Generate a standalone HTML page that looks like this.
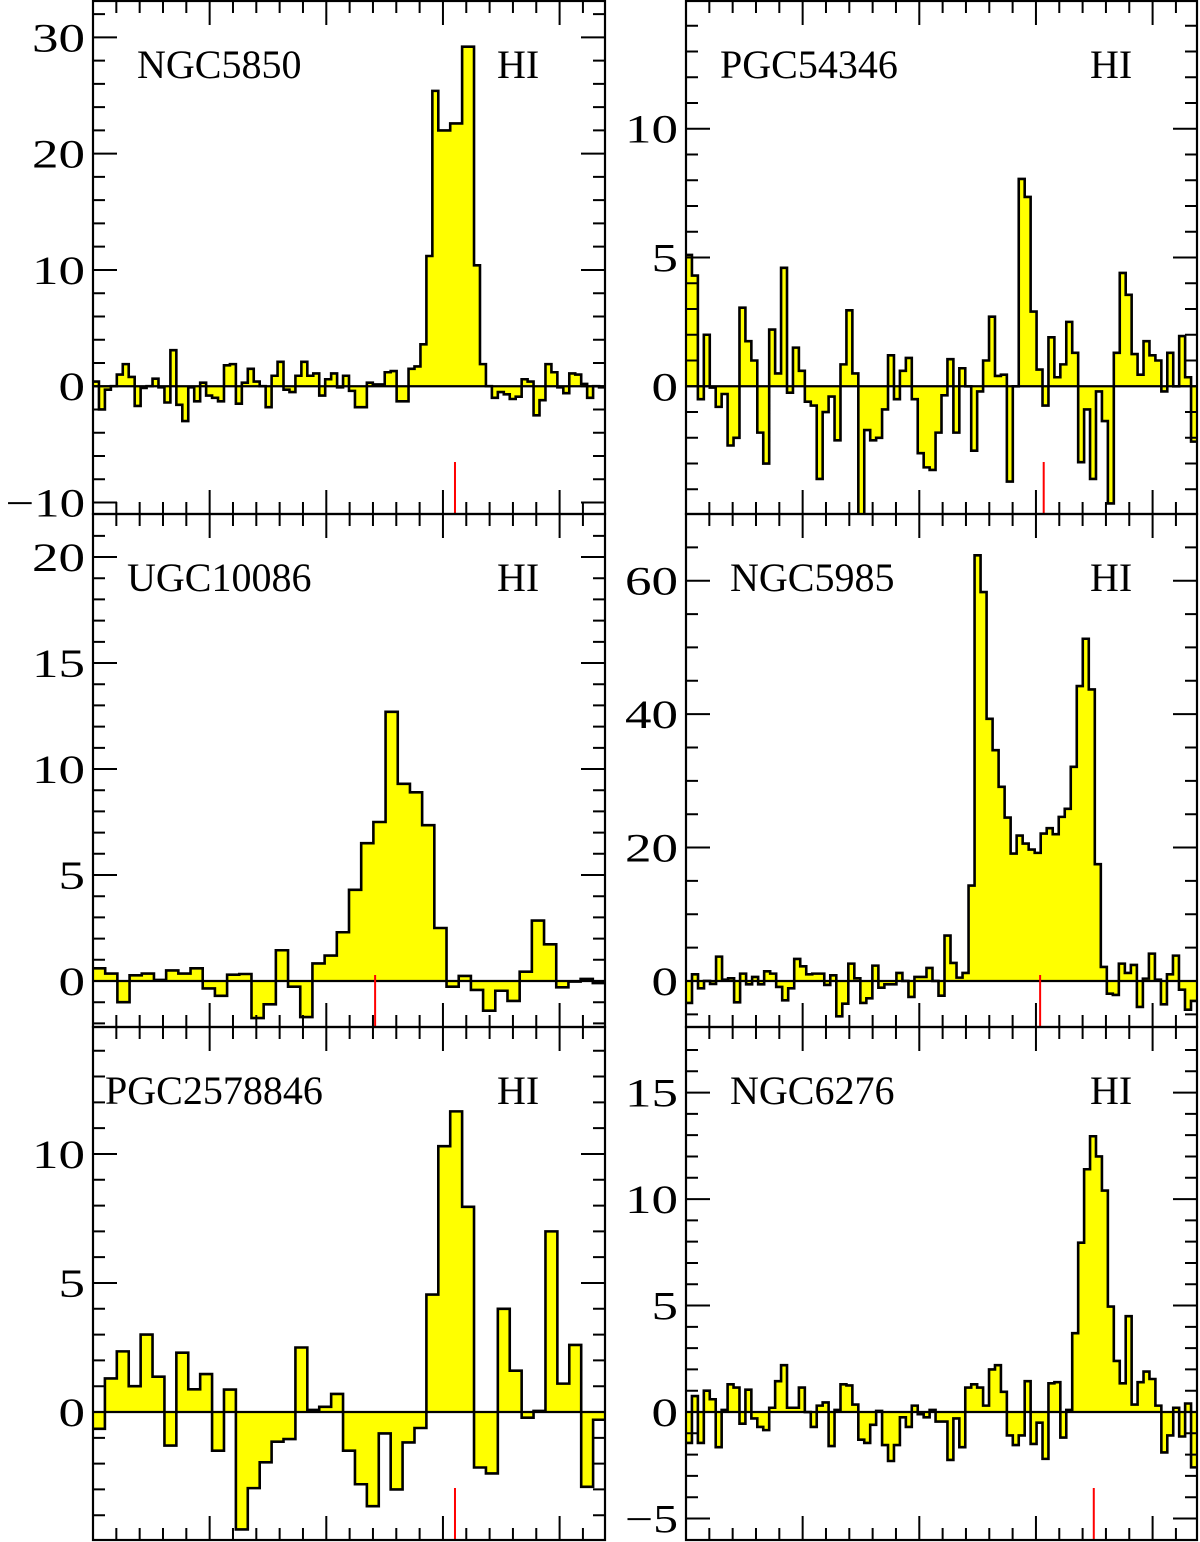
<!DOCTYPE html>
<html><head><meta charset="utf-8"><style>
html,body{margin:0;padding:0;background:#fff;}
svg{display:block;}
text{font-family:"Liberation Serif",serif;fill:#000;}
</style></head><body>
<svg id="chart" width="1200" height="1542" viewBox="0 0 1200 1542" xmlns="http://www.w3.org/2000/svg"></svg>
<script>
// ---- data (flux density per channel) ----
const namesList = ["NGC5850","PGC54346","UGC10086","NGC5985","PGC2578846","NGC6276"];
const ngc5850 = [0.4,-2.0,-0.3,0,1.0,1.9,0.8,-1.7,-0.15,0,0.65,-0.1,-1.4,3.1,-1.6,-3.0,-0.1,-1.3,0.3,-0.8,-1.0,-1.3,1.8,1.9,-1.5,0.3,1.5,0.4,0,-1.8,0.9,2.1,-0.3,-0.5,0.9,2.1,0.9,1.1,-0.8,0.6,1.1,-0.1,0.9,-0.4,-1.8,-1.8,0.3,0.15,0.15,1.2,1.3,-1.3,-1.3,1.5,1.7,3.6,11.2,25.4,22.0,22.0,22.6,22.6,29.2,29.2,10.4,1.9,0,-1.0,-0.5,-0.7,-1.1,-0.9,0.6,0.4,-2.5,-1.2,1.9,1.2,-0.1,-0.6,1.1,1.0,0.2,-1.0,0,-0.1];
const pgc54346 = [5.1,4.3,-0.5,2.0,-0.05,-0.8,-0.3,-2.3,-2.0,3.05,1.75,1.0,-1.8,-3.0,2.2,0.5,4.6,-0.25,1.5,0.6,-0.6,-0.75,-3.6,-1.0,-0.4,-2.1,0.85,2.95,0.5,-5.1,-1.7,-2.1,-2.0,-0.9,1.2,-0.5,0.6,1.1,-0.5,-2.6,-3.15,-3.25,-1.8,-0.35,1.05,-1.8,0.7,0,-2.5,-0.2,1.0,2.7,0.4,0.45,-3.7,0,8.05,7.35,2.9,0.65,-0.75,1.9,0.35,0.85,2.5,1.3,-2.95,-0.9,-3.6,-0.2,-1.35,-4.55,1.3,4.4,3.55,1.25,0.45,1.75,1.2,1.0,-0.2,1.3,0,1.95,0.35,-2.15];
const ugc10086 = [0.6,0.35,-1.0,0.27,0.35,0.05,0.5,0.35,0.6,-0.35,-0.7,0.3,0.33,-1.75,-1.1,1.45,-0.27,-1.7,0.83,1.2,2.3,4.3,6.5,7.5,12.7,9.3,8.9,7.35,2.5,-0.27,0.24,-0.42,-1.4,-0.46,-0.94,0.44,2.85,1.73,-0.3,-0.03,0.1,-0.1];
const ngc5985 = [-3.3,1.0,-1.1,0,-0.45,3.65,0.2,0.4,-3.2,1.1,-0.5,0.6,-0.5,1.45,1.1,-0.9,-2.9,-1.1,3.3,2.2,1.0,1.1,1.1,-0.6,0.85,-5.3,-3.4,2.6,0.4,-3.3,-2.6,2.3,-1.0,-0.5,-0.5,1.2,0,-2.4,0.6,0.6,1.95,0,-2.2,6.8,2.7,0.5,1.2,14.3,63.8,58.3,39.3,34.6,29.1,24.5,19.1,21.8,20.6,19.7,19.2,22.1,22.9,22.0,24.6,25.8,32.1,44.2,51.3,43.7,17.5,2.1,-1.9,-2.1,2.6,1.2,2.4,-3.9,0.35,4.1,0.2,-3.5,1.0,3.8,-1.3,-4.3,-3.0];
const pgc2578846 = [-0.65,1.3,2.35,1.0,3.0,1.37,-1.3,2.3,0.88,1.47,-1.5,0.87,-4.55,-2.95,-1.95,-1.15,-1.05,2.5,0.08,0.2,0.7,-1.5,-2.8,-3.65,-0.83,-3.0,-1.18,-0.62,4.55,10.3,11.65,7.95,-2.15,-2.38,4.0,1.6,-0.22,0.04,7.0,1.1,2.6,-2.9,-0.3];
const ngc6276 = [-1.45,0.75,-1.45,1.0,0.6,-1.65,0.1,1.3,1.15,-0.55,1.05,-0.3,-0.7,-0.85,0.2,1.45,2.2,0.2,0.2,1.15,0,-0.7,0.3,0.45,-1.6,0.1,1.3,1.25,0.35,-1.3,-1.45,-0.6,0.05,-1.55,-2.3,-1.55,-0.25,-0.7,0.3,-0.1,-0.25,0.1,-0.45,-0.45,-2.25,-0.3,-1.65,1.15,1.3,1.15,0.3,2.0,2.2,0.95,-1.1,-1.55,-1.1,1.45,-1.5,-0.5,-2.2,1.35,1.4,-1.2,0.1,3.7,7.95,11.4,12.95,12.0,10.4,4.95,2.4,1.35,4.5,0.35,1.4,1.9,1.55,0.3,-1.9,-1.1,0.2,-1.15,0.4,-2.6];
const seriesList = [ngc5850,pgc54346,ugc10086,ngc5985,pgc2578846,ngc6276];
const yMinList = [-10.99,-4.96,-2.17,-6.9,-4.96,-6.01];
const yMaxList = [33.13,14.96,22.03,70.0,14.92,18.08];
const yLabelStep = [10,5,5,20,5,5];
const yMinorStep = [2,1,1,5,1,1];
const tickLabelsList = [["30","20","10","0","\u221210"],["10","5","0"],["20","15","10","5","0"],["60","40","20","0"],["10","5","0"],["15","10","5","0","\u22125"]];
const tickValuesList = [[30,20,10,0,-10],[10,5,0],[20,15,10,5,0],[60,40,20,0],[10,5,0],[15,10,5,0,-5]];
const markerFrac = [0.707,0.700,0.551,0.693,0.707,0.798];

// ---- layout ----
const svg = document.getElementById('chart');
const NS = 'http://www.w3.org/2000/svg';
const frames = [
  {x:93,y:1,w:512,h:513},{x:686,y:1,w:511,h:513},
  {x:93,y:514,w:512,h:513},{x:686,y:514,w:511,h:513},
  {x:93,y:1027,w:512,h:513},{x:686,y:1027,w:511,h:513}
];
function mk(tag, attrs, parent){
  const e = document.createElementNS(NS, tag);
  for (const k in attrs) e.setAttribute(k, attrs[k]);
  (parent||svg).appendChild(e);
  return e;
}
const defs = mk('defs',{});
frames.forEach((f,i)=>{
  const data = seriesList[i];
  const ymin = yMinList[i], ymax = yMaxList[i];
  const yS = v => f.y + f.h - (v - ymin)/(ymax - ymin)*f.h;
  const n = data.length;
  const xS = k => f.x + k*f.w/n;
  const g = mk('g',{});
  
  
  const cp = mk('clipPath',{id:'cp'+i}, defs);
  mk('rect',{x:f.x,y:f.y,width:f.w,height:f.h}, cp);
  const y0 = yS(0);
  let d = 'M'+xS(0)+','+y0;
  let line = '';
  data.forEach((v,k)=>{
    const yy = yS(v);
    d += ' L'+xS(k)+','+yy+' L'+xS(k+1)+','+yy;
    line += (k===0?'M':' L')+xS(k)+','+yy+' L'+xS(k+1)+','+yy;
  });
  d += ' L'+xS(n)+','+y0+' Z';
  const fill = mk('path',{d:d,fill:'#ffff00',stroke:'none','clip-path':'url(#cp'+i+')'}, g);
  
  
  const zl = mk('line',{x1:f.x,x2:f.x+f.w,y1:y0,y2:y0,stroke:'#000','stroke-width':2.2}, g);
  
  
  const st = mk('path',{d:line,fill:'none',stroke:'#000','stroke-width':2.6,'clip-path':'url(#cp'+i+')'}, g);
  
  
  const mx = f.x + markerFrac[i]*f.w;
  const mline = mk('line',{x1:mx,x2:mx,y1:f.y+f.h-52,y2:f.y+f.h,stroke:'#ff0000','stroke-width':2}, g);
  
  
  let tk = '';
  for (let k=1; f.x + k*23.33 < f.x+f.w-2; k++){
    const tx = f.x + k*23.33;
    const L = (k%5===0)?24:12;
    tk += 'M'+tx+','+(f.y+f.h)+' v'+(-L)+' M'+tx+','+f.y+' v'+L+' ';
  }
  const ms = yMinorStep[i];
  for (let v=Math.ceil(ymin/ms)*ms; v<=ymax; v+=ms){
    const ty = yS(v);
    if (ty < f.y+2 || ty > f.y+f.h-2) continue;
    const maj = Math.abs(v/yLabelStep[i] - Math.round(v/yLabelStep[i])) < 1e-6;
    const L = maj?24:12;
    tk += 'M'+f.x+','+ty+' h'+L+' M'+(f.x+f.w)+','+ty+' h'+(-L)+' ';
  }
  const ticks = mk('path',{d:tk,stroke:'#000','stroke-width':2,fill:'none'}, g);
  
  
  const fr = mk('rect',{x:f.x,y:f.y,width:f.w,height:f.h,fill:'none',stroke:'#000','stroke-width':2.2}, g);
  
  
  tickValuesList[i].forEach((v,k)=>{
    const ty = yS(v);
    const lab = tickLabelsList[i][k];
    const t = mk('text',{x:f.x-8,y:ty+14,'text-anchor':'end','font-size':40,textLength:lab.length*26.5,lengthAdjust:'spacingAndGlyphs'}, g);
    t.textContent = lab;
    
    
  });
  const nx = [137,720,127,730,105,730][i];
  const nm = mk('text',{x:nx,y:f.y+77,'font-size':40}, g);
  nm.textContent = namesList[i];
  
  
  const hi = mk('text',{x:f.x+404,y:f.y+77,'font-size':40}, g);
  hi.textContent = 'HI';
  
  
});
</script>
</body></html>
